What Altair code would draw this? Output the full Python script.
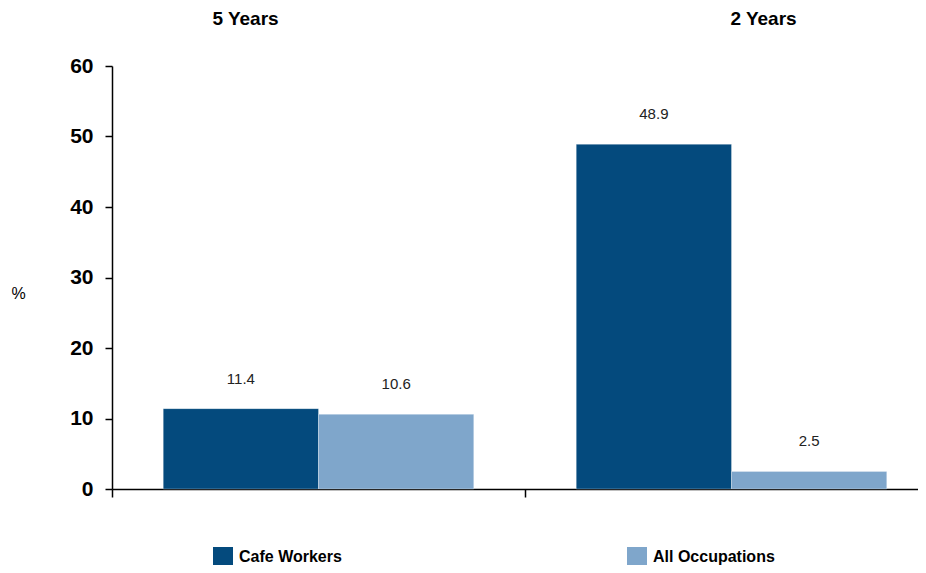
import altair as alt
import pandas as pd

groups = ["5 Years", "2 Years"]
series = ["Cafe Workers", "All Occupations"]
cafe_workers = [11.4, 48.9]
all_occupations = [10.6, 2.5]
colors = ["#044A7D", "#7FA6CB"]
y_ticks = [0, 10, 20, 30, 40, 50, 60]

rows = []
for g, c, a in zip(groups, cafe_workers, all_occupations):
    rows.append({"group": g, "series": series[0], "value": c, "label": f"{c:.1f}"})
    rows.append({"group": g, "series": series[1], "value": a, "label": f"{a:.1f}"})
df = pd.DataFrame(rows)
gdf = pd.DataFrame({"group": groups})

FONT = "Liberation Sans Narrow, Arial Narrow, Liberation Sans, Arial, sans-serif"

x = alt.X("group:N", sort=groups,
          scale=alt.Scale(paddingInner=0, paddingOuter=0, range=[0, 826]),
          axis=alt.Axis(title=None, labels=False, bandPosition=0, tickSize=8,
                        domainColor="black", tickColor="black", domainWidth=1.5,
                        tickWidth=1.5, grid=False))
xoff = alt.XOffset("series:N", sort=series, scale=alt.Scale(paddingOuter=0.33, paddingInner=0))
y = alt.Y("value:Q",
          scale=alt.Scale(domain=[0, 60], nice=False),
          axis=alt.Axis(values=y_ticks, title="%", titleAngle=0, titleX=-94, titleY=227,
                        titleAlign="center", titleBaseline="middle", titleFontSize=16,
                        titleFontWeight="normal", titleFont=FONT,
                        labelFont=FONT, labelFontSize=21, labelFontWeight="bold",
                        labelColor="black", labelPadding=12, tickSize=7, tickColor="black",
                        domainColor="black", domainWidth=1.5, tickWidth=1.5, grid=False))

bars = alt.Chart(df).mark_bar(stroke="white", strokeWidth=0.5, strokeOpacity=0.6).encode(
    x=x, xOffset=xoff, y=y,
    color=alt.Color("series:N", sort=series,
                    scale=alt.Scale(domain=series, range=colors),
                    legend=alt.Legend(title=None, orient="none", legendX=101, legendY=481,
                                      direction="horizontal", symbolType="square", symbolSize=400,
                                      symbolStrokeWidth=0, labelFont=FONT, labelFontSize=16,
                                      labelFontWeight="bold", labelColor="black",
                                      columnPadding=285, labelLimit=300, symbolOffset=0,
                                      labelOffset=6)),
)

labels = alt.Chart(df).mark_text(dy=-22, baseline="bottom", fontSize=15, font=FONT, color="#222222").encode(
    x=x, xOffset=xoff, y="value:Q", text="label:N"
)

head1 = alt.Chart(gdf).transform_filter(alt.datum.group == groups[0]).mark_text(
    fontSize=19, fontWeight="bold", font=FONT, color="black", dx=-73, baseline="middle"
).encode(x=x, y=alt.value(-47), text="group:N")
head2 = alt.Chart(gdf).transform_filter(alt.datum.group == groups[1]).mark_text(
    fontSize=19, fontWeight="bold", font=FONT, color="black", dx=32, baseline="middle"
).encode(x=x, y=alt.value(-47), text="group:N")

chart = alt.layer(bars, labels, head1, head2).properties(
    width=806, height=423,
    background="white",
    autosize=alt.AutoSizeParams(type="none"),
    padding={"left": 104, "top": 58, "right": 0, "bottom": 76},
).configure_view(strokeWidth=0, stroke="transparent").configure_axis(grid=False)

chart.save("out.html", embed_options={"renderer": "svg", "actions": False})
